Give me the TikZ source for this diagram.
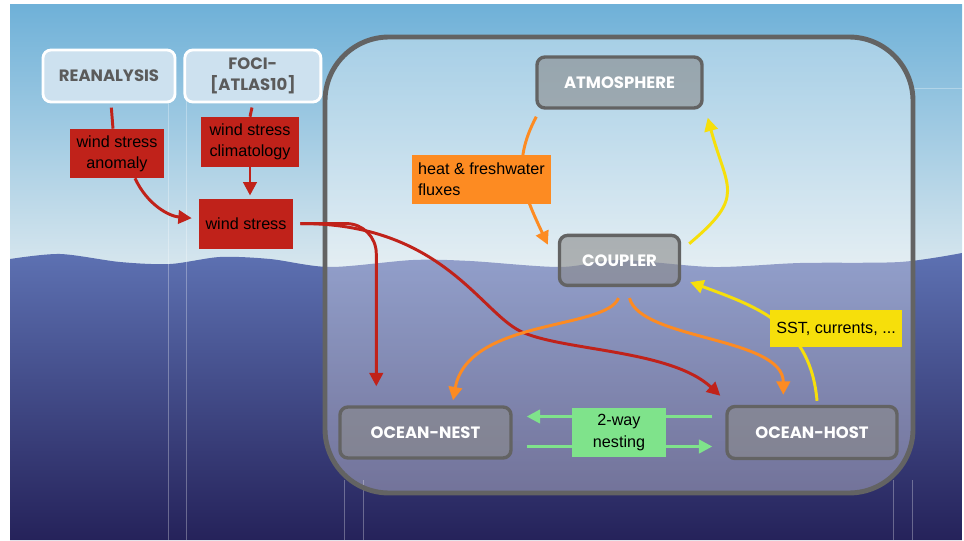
\documentclass[tikz,border=0pt]{standalone}
\usepackage{fontspec}
\setsansfont{Liberation Sans}
\newfontfamily\boxfont{Poppins}
\usepackage{tikz}
\usetikzlibrary{positioning, arrows.meta, calc}
\pgfdeclarelayer{background}
\pgfdeclarelayer{edges}
\pgfsetlayers{background,edges,main}
\definecolor{skytop}{HTML}{6FB1D8}
\definecolor{skylow}{HTML}{E0EBF0}
\definecolor{seatop}{HTML}{5D71B2}
\definecolor{seamid}{HTML}{3A4586}
\definecolor{seadeep}{HTML}{25225A}
\definecolor{boxline}{HTML}{636363}
\definecolor{boxgray}{HTML}{8A8A8A}
\definecolor{boxwhite}{HTML}{CDE1EF}
\definecolor{titlegray}{HTML}{5B5B5B}
\definecolor{windred}{HTML}{C0221A}
\definecolor{fluxorange}{HTML}{FD8B22}
\definecolor{sstyellow}{HTML}{F6DF0B}
\definecolor{nestgreen}{HTML}{7FE38B}
\tikzset{
    databox/.style={draw=white, line width=2pt, fill=boxwhite, rounded corners=0.2cm,
      font=\boxfont\bfseries\fontsize{11.7}{15}\selectfont, text=titlegray, align=center, inner sep=0pt},
    modelbox/.style={draw=boxline, line width=2.4pt, fill=boxgray, fill opacity=0.6, text opacity=1,
      rounded corners=0.2cm, font=\boxfont\bfseries\fontsize{11.7}{15}\selectfont, text=white, inner sep=0pt},
    tag/.style={inner sep=2pt, font=\sffamily\fontsize{11.5}{15}\selectfont, text=black, align=center},
    link/.style={line width=2.1pt, >={Triangle[length=9.5pt,width=9.5pt]}},
    seam/.style={white, opacity=0.3, line width=0.5pt},
}
\begin{document}
\begin{tikzpicture}[x=0.025cm, y=0.025cm]
    \useasboundingbox (0,0) rectangle (964,540);

    \node[databox, minimum width=3.3cm, minimum height=1.3cm] (rean) at (109,464) {REANALYSIS};
    \node[databox, minimum width=3.4cm, minimum height=1.3cm, right=0.175cm of rean] (foci) {FOCI-\\{[ATLAS10]}};

    \node[tag, fill=windred, minimum width=2.35cm, minimum height=1.225cm] (anom) at (117,386.5) {wind stress\\anomaly};
    \node[tag, fill=windred, minimum width=2.45cm, minimum height=1.25cm] (clim) at (250,398) {wind stress\\climatology};
    \node[tag, fill=windred, minimum width=2.35cm, minimum height=1.25cm, below=0.775cm of clim, xshift=-0.1cm] (wind) {wind stress};

    \node[modelbox, minimum width=4.125cm, minimum height=1.275cm] (atm) at (619.5,457.5) {ATMOSPHERE};
    \node[modelbox, minimum width=3cm, minimum height=1.25cm, below=3.1cm of atm] (coup) {COUPLER};

    \node[tag, fill=nestgreen, minimum width=2.35cm, minimum height=1.225cm] (nesting) at (619,107.5) {2-way\\nesting};
    \node[modelbox, minimum width=4.275cm, minimum height=1.275cm, left=1.475cm of nesting] (nest) {OCEAN-NEST};
    \node[modelbox, minimum width=4.25cm, minimum height=1.3cm, right=1.475cm of nesting] (host) {OCEAN-HOST};

    \node[tag, fill=fluxorange, align=left, minimum width=3.475cm, minimum height=1.225cm] (flux) at (481.5,360.5) {heat \& freshwater\\fluxes};
    \node[tag, fill=sstyellow, minimum width=3.3cm, minimum height=0.925cm] (sst) at (836,211.5) {SST, currents, ...};

    % sky, sea and the model frame
    \begin{pgfonlayer}{background}
      \shade[top color=skytop, bottom color=skylow] (10,250) rectangle (962,535);
      \shade[top color=seatop, middle color=seamid, bottom color=seadeep]
        plot[smooth] coordinates {(10,281) (60,286) (120,278) (170,276) (220,283) (270,281) (330,273)
          (413,280) (470,279) (560,273) (620,280) (713,273) (800,277) (900,278) (962,287)}
        -- (962,0) -- (10,0) -- cycle;
      \foreach \x in {168,186}
        \draw[seam] (\x,0) -- (\x,440);
      \foreach \x in {344,363,893,912}
        \draw[seam] (\x,0) -- (\x,60);
      \draw[seam] (912,452) -- (962,452);
      \draw[draw=boxline, line width=3.5pt, fill=white, fill opacity=0.33, rounded corners=1.6cm]
        (325,47) rectangle (913,503);
    \end{pgfonlayer}

    \begin{pgfonlayer}{edges}
      \draw[link, windred, shorten <=3pt] ([xshift=0.05cm]rean.south) -- ([xshift=-0.1cm]anom.north);
      \draw[link, windred, ->, shorten >=5pt] ([xshift=0.45cm]anom.south) to[out=-65, in=175] ([yshift=0.12cm]wind.west);
      \draw[link, windred, shorten <=3pt] (foci.south) -- (clim.north);
      \draw[link, windred, ->, shorten >=2pt] (clim.south) -- (clim.south |- wind.north);
      \draw[link, windred, ->, rounded corners=0.75cm, shorten <=5pt] (wind.east) -| ($(nest.north west)+(38,19)$);
      \draw[link, windred, ->, shorten <=5pt] (wind.east) .. controls (440,317) and (480,229) .. (520,209)
        .. controls (560,189) and (670,191) .. ($(host.north west)+(-5,9)$);

      \draw[link, fluxorange, ->] ($(atm.south west)+(1,-7)$) to[out=-118, in=115, looseness=1.1] ($(coup.north west)+(-10,-11)$);
      \draw[link, fluxorange, ->] ($(coup.south)+(-1,-11)$) .. controls +(-13,-32) and +(15,82) .. ($(nest.north)+(27.5,5)$);
      \draw[link, fluxorange, ->] ($(coup.south)+(10,-11)$) .. controls +(11,-42) and +(0,58) .. ($(host.north west)+(58,10)$);

      \draw[link, sstyellow, ->] ($(coup.north east)+(8,-10)$) to[out=40, in=-75, looseness=1.5] ($(atm.south east)+(4,-8)$);
      \draw[link, sstyellow, ->] ($(host.north)+(5,4)$) to[out=95, in=-20, looseness=1.1] ($(coup.south east)+(9,5)$);

      \draw[link, nestgreen, ->] ($(host.west)+(-13,16)$) -- ($(nest.east)+(14,16)$);
      \draw[link, nestgreen, ->] ($(nest.east)+(14,-14)$) -- ($(host.west)+(-13,-14)$);
    \end{pgfonlayer}
\end{tikzpicture}
\end{document}
